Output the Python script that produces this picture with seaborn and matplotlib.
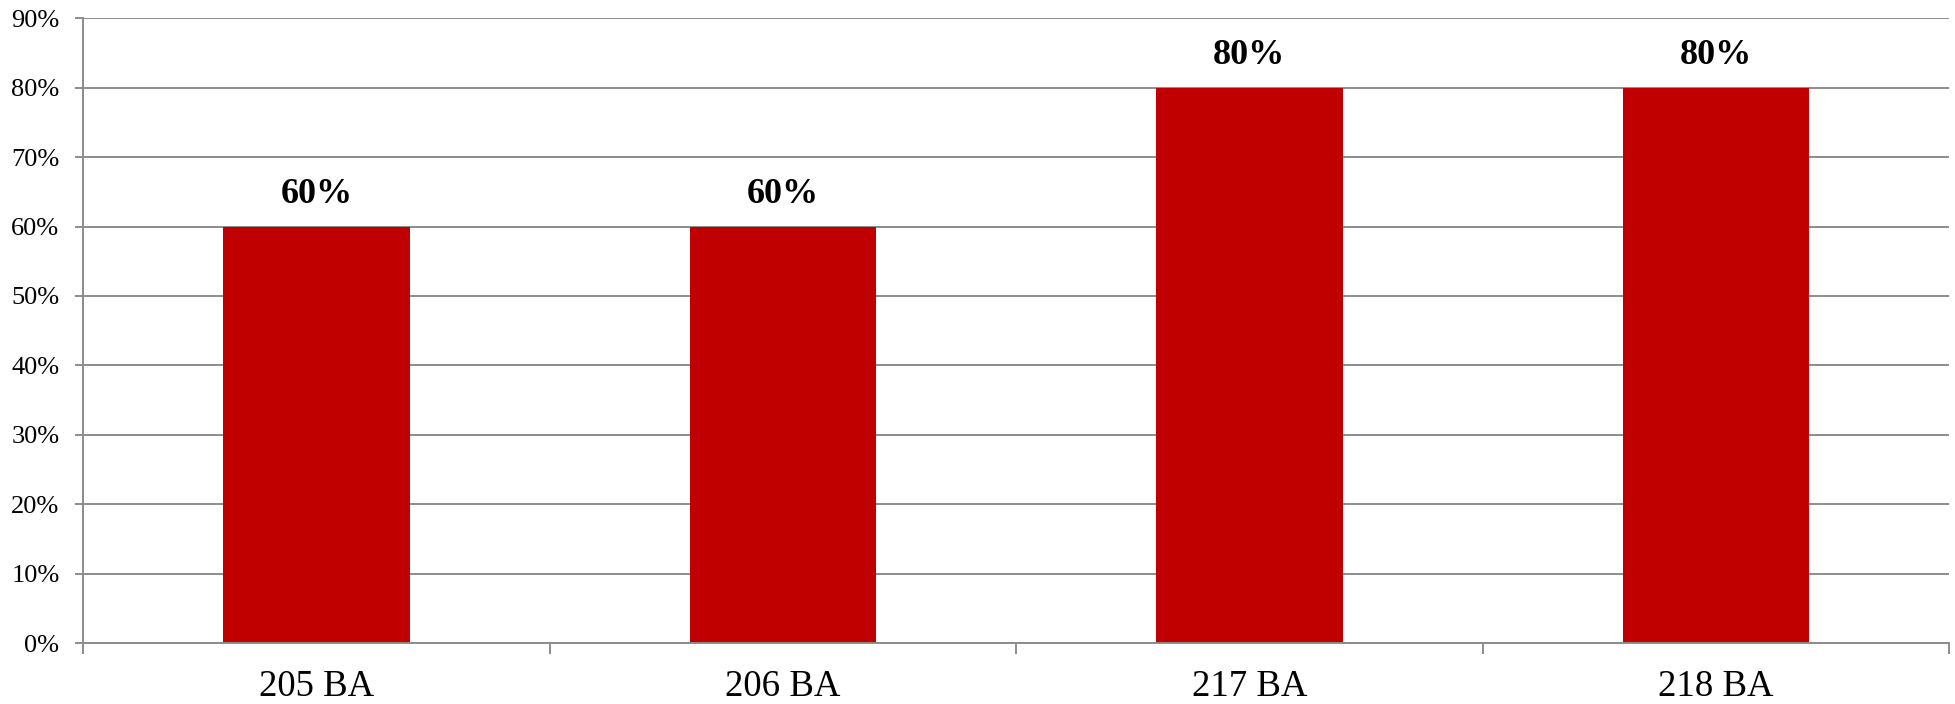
import matplotlib
matplotlib.use("Agg")
import matplotlib.pyplot as plt
import matplotlib.ticker
import pandas as pd
import seaborn as sns

# values
categories = ["205 BA", "206 BA", "217 BA", "218 BA"]
percent = [60, 60, 80, 80]
y_ticks = [0, 10, 20, 30, 40, 50, 60, 70, 80, 90]

BAR = "#c00000"
GRID = "#8c8c8c"

sns.set_theme(style="white")
plt.rcParams["font.family"] = ["Liberation Serif", "DejaVu Serif"]
plt.rcParams["text.color"] = "black"
plt.rcParams["xtick.labelcolor"] = "black"
plt.rcParams["ytick.labelcolor"] = "black"

df = pd.DataFrame({"cat": categories, "pct": percent})

fig = plt.figure(figsize=(19.55, 7.04), dpi=100)
ax = fig.add_axes([0.0425, 0.0866, 0.9545, 0.8874])
sns.barplot(df, x="cat", y="pct", color=BAR, saturation=1, width=0.4,
            linewidth=0, ax=ax)

ax.set_ylim(0, 90)
ax.set_xlim(-0.5, len(categories) - 0.5)
ax.set_yticks(y_ticks)
ax.yaxis.set_major_formatter(matplotlib.ticker.FuncFormatter(lambda v, p: f"{v:.0f}%"))
ax.yaxis.grid(True, color=GRID, linewidth=1.4)
ax.set_axisbelow(True)

# category boundary ticks on the x axis, labels centred under the bars
ax.set_xticks([i - 0.5 for i in range(len(categories) + 1)])
ax.set_xticklabels([])
ax.set_xticks(range(len(categories)), minor=True)
ax.set_xticklabels(categories, minor=True, fontsize=26.5)
ax.tick_params(axis="x", which="major", direction="out", length=8, width=1.4,
               color=GRID, bottom=True)
ax.tick_params(axis="x", which="minor", length=0, pad=19)
ax.tick_params(axis="y", direction="out", length=6, width=1.4, color=GRID,
               left=True, labelsize=19, pad=11)

for s in ("top", "right"):
    ax.spines[s].set_visible(False)
for s in ("left", "bottom"):
    ax.spines[s].set_color(GRID)
    ax.spines[s].set_linewidth(1.4)

for c in ax.containers:
    ax.bar_label(c, fmt="%.0f%%", padding=11, fontsize=26, fontweight="bold",
                 color="black")

ax.set_xlabel("")
ax.set_ylabel("")
fig.savefig("out.png", dpi=100)
